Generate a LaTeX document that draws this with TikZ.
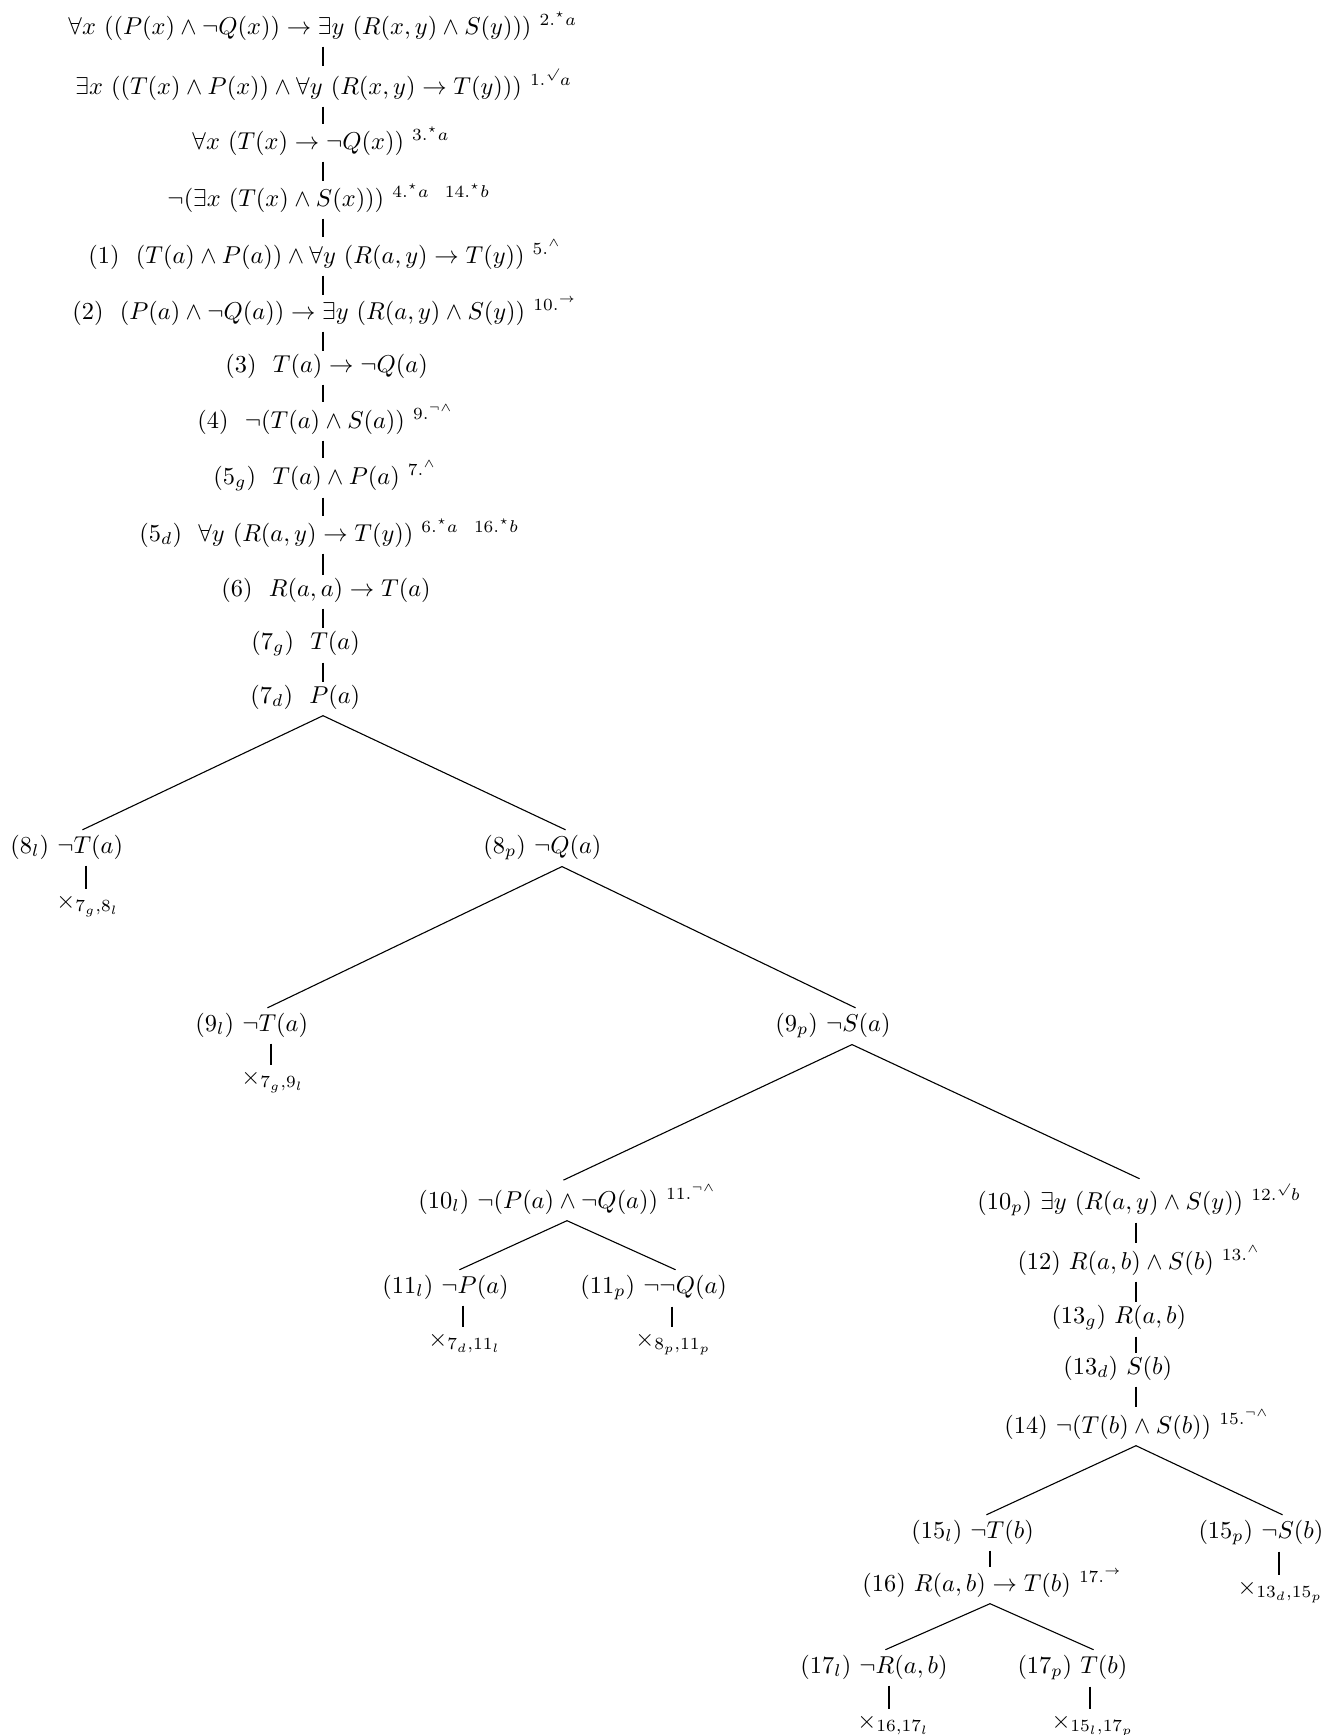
\documentclass[tikz,border=0pt]{standalone}
\usepackage{amsmath,amssymb}
\begin{document}
\begin{tikzpicture}[x=0.41pt,y=-0.41pt,
  entry/.style={anchor=base west,inner xsep=0pt,inner ysep=2.5pt},
  closed/.style={anchor=base west,inner xsep=0pt,inner ysep=3.4pt},
  branch/.style={line width=0.45pt,shorten >=-1.6pt}]
\useasboundingbox (0,0) rectangle (1326,1735);
% attach columns
\coordinate (cT) at (323,0);
\coordinate (c8l) at (86,0);
\coordinate (c8p) at (562,0);
\coordinate (c9l) at (271,0);
\coordinate (c9p) at (852,0);
\coordinate (c10l) at (567,0);
\coordinate (c10p) at (1136,0);
\coordinate (c11l) at (463,0);
\coordinate (c11p) at (672,0);
\coordinate (c15l) at (990,0);
\coordinate (c15p) at (1279,0);
\coordinate (c17l) at (889,0);
\coordinate (c17p) at (1090,0);
% trunk
\node[entry] (n1) at (68,34) {$\forall x\ ((P(x)\land\neg Q(x))\to\exists y\ (R(x,y)\land S(y)))$ $^{2.^{\star}a}$};
\node[entry] (n2) at (75,94) {$\exists x\ ((T(x)\land P(x))\land\forall y\ (R(x,y)\to T(y)))$ $^{1.^{\surd}a}$};
\node[entry] (n3) at (192,149) {$\forall x\ (T(x)\to\neg Q(x))$ $^{3.^{\star}a}$};
\node[entry] (n4) at (167,206) {$\neg(\exists x\ (T(x)\land S(x)))$ $^{4.^{\star}a\ \ 14.^{\star}b}$};
\node[entry] (n5) at (88,263) {(1)\ \ $(T(a)\land P(a))\land\forall y\ (R(a,y)\to T(y))$ $^{5.^{\land}}$};
\node[entry] (n6) at (72,319) {(2)\ \ $(P(a)\land\neg Q(a))\to\exists y\ (R(a,y)\land S(y))$ $^{10.^{\to}}$};
\node[entry] (n7) at (225,372) {(3)\ \ $T(a)\to\neg Q(a)$};
\node[entry] (n8) at (197,428) {(4)\ \ $\neg(T(a)\land S(a))$ $^{9.^{\neg\land}}$};
\node[entry] (n9) at (213,484) {(5$_g$)\ \ $T(a)\land P(a)$ $^{7.^{\land}}$};
\node[entry] (n10) at (139,541) {(5$_d$)\ \ $\forall y\ (R(a,y)\to T(y))$ $^{6.^{\star}a\ \ 16.^{\star}b}$};
\node[entry] (n11) at (221,596) {(6)\ \ $R(a,a)\to T(a)$};
\node[entry] (n12) at (251,649) {(7$_g$)\ \ $T(a)$};
\node[entry] (n13) at (250,703) {(7$_d$)\ \ $P(a)$};
% branches
\node[entry] (n8l) at (10,853) {(8$_l$) $\neg T(a)$};
\node[entry] (n8p) at (483,853) {(8$_p$) $\neg Q(a)$};
\node[closed] (x8l) at (56,908) {$\times_{7_g,8_l}$};
\node[entry] (n9l) at (195,1031) {(9$_l$) $\neg T(a)$};
\node[closed] (x9l) at (241,1084) {$\times_{7_g,9_l}$};
\node[entry] (n9p) at (775,1031) {(9$_p$) $\neg S(a)$};
\node[entry] (n10l) at (418,1208) {(10$_l$) $\neg(P(a)\land\neg Q(a))$ $^{11.^{\neg\land}}$};
\node[entry] (n10p) at (977,1209) {(10$_p$) $\exists y\ (R(a,y)\land S(y))$ $^{12.^{\surd}b}$};
\node[entry] (n11l) at (382,1293) {(11$_l$) $\neg P(a)$};
\node[entry] (n11p) at (580,1293) {(11$_p$) $\neg\neg Q(a)$};
\node[closed] (x11l) at (428,1346) {$\times_{7_d,11_l}$};
\node[closed] (x11p) at (635,1346) {$\times_{8_p,11_p}$};
\node[entry] (n12b) at (1017,1269) {(12) $R(a,b)\land S(b)$ $^{13.^{\land}}$};
\node[entry] (n13g) at (1051,1323) {(13$_g$) $R(a,b)$};
\node[entry] (n13d) at (1063,1374) {(13$_d$) $S(b)$};
\node[entry] (n14) at (1004,1433) {(14) $\neg(T(b)\land S(b))$ $^{15.^{\neg\land}}$};
\node[entry] (n15l) at (911,1538) {(15$_l$) $\neg T(b)$};
\node[entry] (n15p) at (1198,1538) {(15$_p$) $\neg S(b)$};
\node[closed] (x15p) at (1237,1594) {$\times_{13_d,15_p}$};
\node[entry] (n16) at (862,1591) {(16) $R(a,b)\to T(b)$ $^{17.^{\to}}$};
\node[entry] (n17l) at (800,1673) {(17$_l$) $\neg R(a,b)$};
\node[entry] (n17p) at (1017,1673) {(17$_p$) $T(b)$};
\node[closed] (x17l) at (857,1728) {$\times_{16,17_l}$};
\node[closed] (x17p) at (1051,1728) {$\times_{15_l,17_p}$};
% trunk connectors
\foreach \a/\b in {n1/n2,n2/n3,n3/n4,n4/n5,n5/n6,n6/n7,n7/n8,n8/n9,n9/n10,n10/n11,n11/n12,n12/n13}
  \draw[branch] (\a.south -| cT) -- (\b.north -| cT);
% branching connectors
\draw[branch] (n13.south -| cT) -- (n8l.north -| c8l);
\draw[branch] (n13.south -| cT) -- (n8p.north -| c8p);
\draw[branch] (n8l.south -| c8l) -- (x8l.north -| c8l);
\draw[branch] (n8p.south -| c8p) -- (n9l.north -| c9l);
\draw[branch] (n8p.south -| c8p) -- (n9p.north -| c9p);
\draw[branch] (n9l.south -| c9l) -- (x9l.north -| c9l);
\draw[branch] (n9p.south -| c9p) -- (n10l.north -| c10l);
\draw[branch] (n9p.south -| c9p) -- (n10p.north -| c10p);
\draw[branch] (n10l.south -| c10l) -- (n11l.north -| c11l);
\draw[branch] (n10l.south -| c10l) -- (n11p.north -| c11p);
\draw[branch] (n11l.south -| c11l) -- (x11l.north -| c11l);
\draw[branch] (n11p.south -| c11p) -- (x11p.north -| c11p);
\draw[branch] (n10p.south -| c10p) -- (n12b.north -| c10p);
\draw[branch] (n12b.south -| c10p) -- (n13g.north -| c10p);
\draw[branch] (n13g.south -| c10p) -- (n13d.north -| c10p);
\draw[branch] (n13d.south -| c10p) -- (n14.north -| c10p);
\draw[branch] (n14.south -| c10p) -- (n15l.north -| c15l);
\draw[branch] (n14.south -| c10p) -- (n15p.north -| c15p);
\draw[branch] (n15l.south -| c15l) -- (n16.north -| c15l);
\draw[branch] (n15p.south -| c15p) -- (x15p.north -| c15p);
\draw[branch] (n16.south -| c15l) -- (n17l.north -| c17l);
\draw[branch] (n16.south -| c15l) -- (n17p.north -| c17p);
\draw[branch] (n17l.south -| c17l) -- (x17l.north -| c17l);
\draw[branch] (n17p.south -| c17p) -- (x17p.north -| c17p);
\end{tikzpicture}
\end{document}
